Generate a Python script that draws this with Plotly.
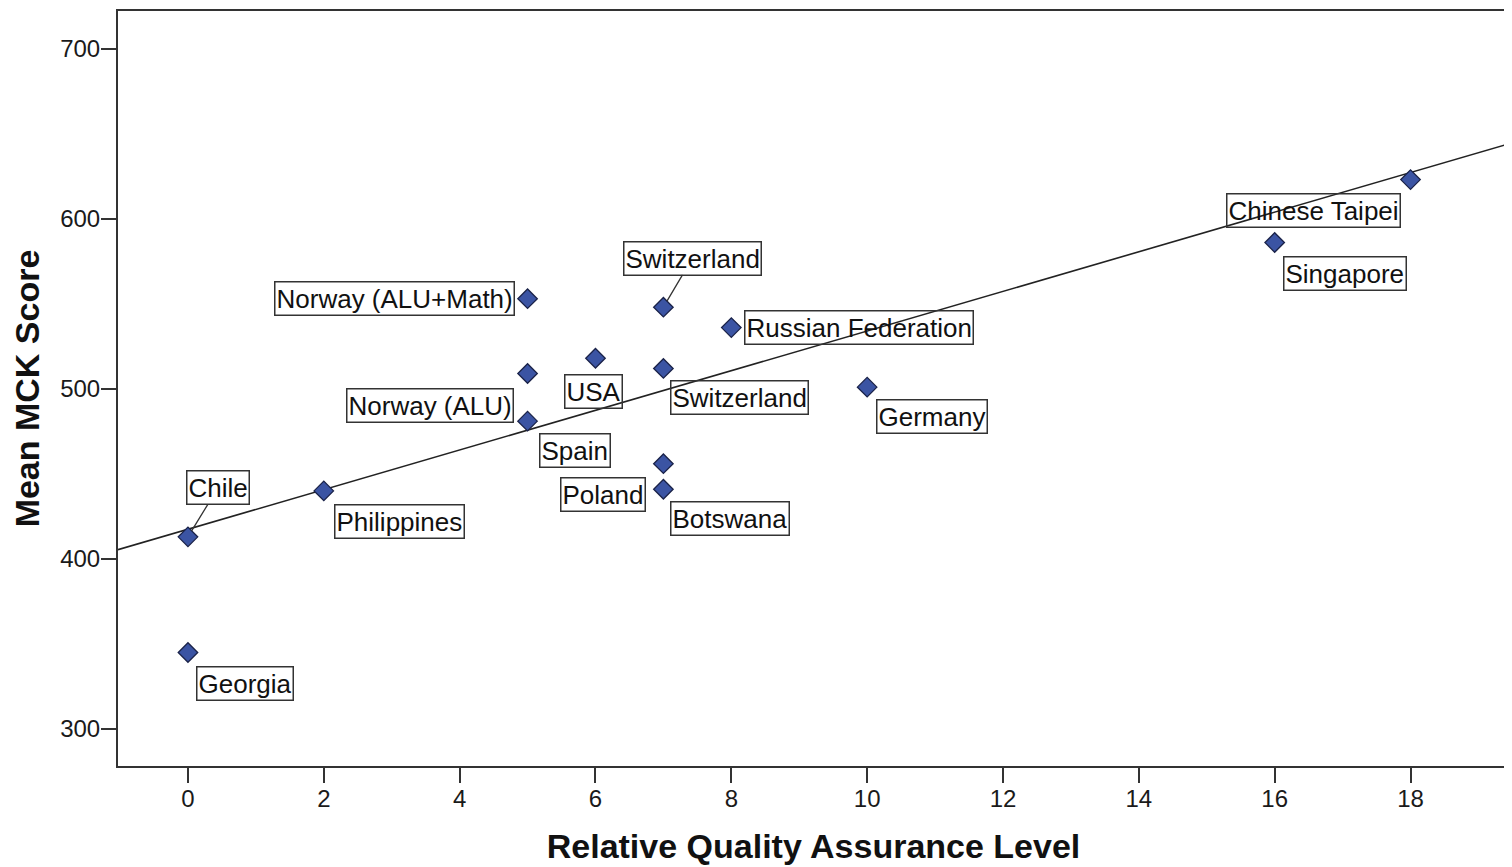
import numpy as np
import plotly.graph_objects as go

# ---- data ----
countries = ["Chile", "Georgia", "Philippines", "Norway (ALU+Math)", "Norway (ALU)",
             "Spain", "USA", "Switzerland", "Switzerland", "Poland", "Botswana",
             "Russian Federation", "Germany", "Singapore", "Chinese Taipei"]
qa_level = [0, 0, 2, 5, 5, 5, 6, 7, 7, 7, 7, 8, 10, 16, 18]
mck_score = [413, 345, 440, 553, 509, 481, 518, 548, 512, 456, 441, 536, 501, 586, 623]
x_ticks = [0, 2, 4, 6, 8, 10, 12, 14, 16, 18]
y_ticks = [300, 400, 500, 600, 700]

# ---- layout config ----
X_RANGE = [-1.03, 19.45]
Y_RANGE = [278.3, 722.1]

# label placement (pixels) per point index
label_style = [
    ("arrow", 30, -49),
    ("box", "left", "top", 8, -13),
    ("box", "left", "top", 10, -13),
    ("box", "right", "middle", -13, 0),
    ("box", "right", "top", -14, -14),
    ("box", "left", "top", 11, -12),
    ("box", "left", "top", -31, -16),
    ("arrow", 29, -49),
    ("box", "left", "top", 7, -12),
    ("box", "right", "top", -17, -13),
    ("box", "left", "top", 7, -12),
    ("box", "left", "middle", 13, 0),
    ("box", "left", "top", 9, -12),
    ("box", "left", "top", 8, -13),
    ("box", "right", "top", -10, -13),
]

slope, intercept = np.polyfit(qa_level, mck_score, 1)
fit_x = np.array(X_RANGE)
fit_y = intercept + slope * fit_x

FONT = "Liberation Sans, Arial, sans-serif"

fig = go.Figure()
fig.add_trace(go.Scatter(
    x=fit_x, y=fit_y, mode="lines",
    line=dict(color="#222222", width=1.6), hoverinfo="skip", showlegend=False))
fig.add_trace(go.Scatter(
    x=qa_level, y=mck_score, mode="markers", text=countries,
    marker=dict(symbol="diamond", size=15, color="#3B54A3",
                line=dict(color="#1A2248", width=1.3)),
    showlegend=False))

annotations = []
for name, xv, yv, st in zip(countries, qa_level, mck_score, label_style):
    base = dict(x=xv, y=yv, xref="x", yref="y", text=name,
                font=dict(family=FONT, size=26, color="#111111"),
                bordercolor="#333333", borderwidth=1.5, borderpad=1)
    if st[0] == "arrow":
        base.update(showarrow=True, arrowhead=0, arrowwidth=1.3,
                    arrowcolor="#333333", ax=st[1], ay=st[2], standoff=7)
    else:
        base.update(showarrow=False, xanchor=st[1], yanchor=st[2],
                    xshift=st[3], yshift=st[4])
    annotations.append(base)

fig.update_layout(
    width=1504, height=859,
    margin=dict(l=110, r=2, t=1, b=101),
    paper_bgcolor="white", plot_bgcolor="white",
    annotations=annotations,
    font=dict(family=FONT, color="#222222"),
)
fig.update_xaxes(
    range=X_RANGE, tickvals=x_ticks, ticktext=[str(v) for v in x_ticks],
    showgrid=False, zeroline=False,
    showline=True, linecolor="#333333", linewidth=2, mirror=True,
    ticks="outside", ticklen=15, tickwidth=2, tickcolor="#333333",
    ticklabelstandoff=-5,
    tickfont=dict(family=FONT, size=24, color="#1a1a1a"),
    title=dict(text="<b>Relative Quality Assurance Level</b>",
               font=dict(family=FONT, size=34, color="#111111"), standoff=23),
)
fig.update_yaxes(
    range=Y_RANGE, tickvals=y_ticks, ticktext=[str(v) for v in y_ticks],
    showgrid=False, zeroline=False,
    showline=True, linecolor="#333333", linewidth=2, mirror=True,
    ticks="outside", ticklen=15, tickwidth=2, tickcolor="#333333",
    ticklabelstandoff=-4,
    tickfont=dict(family=FONT, size=24, color="#1a1a1a"),
    title=dict(text="<b>Mean MCK Score</b>",
               font=dict(family=FONT, size=34, color="#111111"), standoff=12),
)

fig.write_html("out.html")
